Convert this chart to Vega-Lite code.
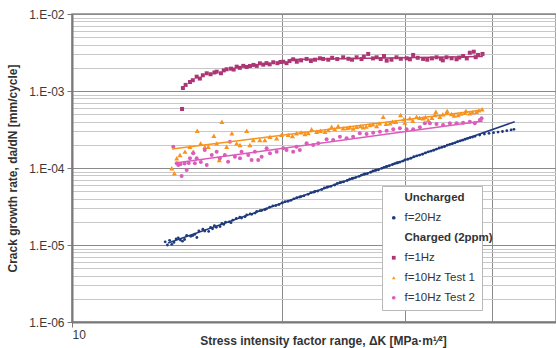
{
  "$schema": "https://vega.github.io/schema/vega-lite/v6.json",
  "width": 484,
  "height": 308,
  "autosize": {"type": "none"},
  "padding": {"left": 72, "top": 14, "right": 0, "bottom": 26},
  "background": "white",
  "config": {
    "font": "Liberation Sans",
    "view": {"stroke": "#8a8a8a", "strokeWidth": 1.5}
  },
  "datasets": {
    "pts": [
      {"series": "f=20Hz", "dK": 13.6, "rate": 1.10e-5},
      {"series": "f=20Hz", "dK": 13.7, "rate": 1.00e-5},
      {"series": "f=20Hz", "dK": 13.8, "rate": 1.15e-5},
      {"series": "f=20Hz", "dK": 13.9, "rate": 1.02e-5},
      {"series": "f=20Hz", "dK": 14.0, "rate": 1.08e-5},
      {"series": "f=20Hz", "dK": 14.1, "rate": 1.20e-5},
      {"series": "f=20Hz", "dK": 14.2, "rate": 1.24e-5},
      {"series": "f=20Hz", "dK": 14.3, "rate": 1.16e-5},
      {"series": "f=20Hz", "dK": 14.4, "rate": 1.12e-5},
      {"series": "f=20Hz", "dK": 14.5, "rate": 1.18e-5},
      {"series": "f=20Hz", "dK": 14.6, "rate": 1.33e-5},
      {"series": "f=20Hz", "dK": 14.8, "rate": 1.30e-5},
      {"series": "f=20Hz", "dK": 14.9, "rate": 1.33e-5},
      {"series": "f=20Hz", "dK": 15.0, "rate": 1.38e-5},
      {"series": "f=20Hz", "dK": 15.1, "rate": 1.25e-5},
      {"series": "f=20Hz", "dK": 15.2, "rate": 1.52e-5},
      {"series": "f=20Hz", "dK": 15.4, "rate": 1.60e-5},
      {"series": "f=20Hz", "dK": 15.5, "rate": 1.52e-5},
      {"series": "f=20Hz", "dK": 15.7, "rate": 1.50e-5},
      {"series": "f=20Hz", "dK": 15.8, "rate": 1.69e-5},
      {"series": "f=20Hz", "dK": 15.9, "rate": 1.62e-5},
      {"series": "f=20Hz", "dK": 16.0, "rate": 1.78e-5},
      {"series": "f=20Hz", "dK": 16.1, "rate": 1.70e-5},
      {"series": "f=20Hz", "dK": 16.3, "rate": 1.74e-5},
      {"series": "f=20Hz", "dK": 16.4, "rate": 1.90e-5},
      {"series": "f=20Hz", "dK": 16.5, "rate": 1.85e-5},
      {"series": "f=20Hz", "dK": 16.6, "rate": 1.98e-5},
      {"series": "f=20Hz", "dK": 16.8, "rate": 2.00e-5},
      {"series": "f=20Hz", "dK": 16.9, "rate": 1.95e-5},
      {"series": "f=20Hz", "dK": 17.0, "rate": 2.10e-5},
      {"series": "f=20Hz", "dK": 17.2, "rate": 2.22e-5},
      {"series": "f=20Hz", "dK": 17.4, "rate": 2.30e-5},
      {"series": "f=20Hz", "dK": 17.5, "rate": 2.24e-5},
      {"series": "f=20Hz", "dK": 17.7, "rate": 2.33e-5},
      {"series": "f=20Hz", "dK": 17.8, "rate": 2.45e-5},
      {"series": "f=20Hz", "dK": 18.0, "rate": 2.53e-5},
      {"series": "f=20Hz", "dK": 18.1, "rate": 2.50e-5},
      {"series": "f=20Hz", "dK": 18.3, "rate": 2.60e-5},
      {"series": "f=20Hz", "dK": 18.4, "rate": 2.72e-5},
      {"series": "f=20Hz", "dK": 18.6, "rate": 2.80e-5},
      {"series": "f=20Hz", "dK": 18.7, "rate": 2.80e-5},
      {"series": "f=20Hz", "dK": 18.9, "rate": 2.88e-5},
      {"series": "f=20Hz", "dK": 19.0, "rate": 2.95e-5},
      {"series": "f=20Hz", "dK": 19.2, "rate": 3.10e-5},
      {"series": "f=20Hz", "dK": 19.4, "rate": 3.22e-5},
      {"series": "f=20Hz", "dK": 19.6, "rate": 3.25e-5},
      {"series": "f=20Hz", "dK": 19.8, "rate": 3.35e-5},
      {"series": "f=20Hz", "dK": 20.0, "rate": 3.52e-5},
      {"series": "f=20Hz", "dK": 20.2, "rate": 3.66e-5},
      {"series": "f=20Hz", "dK": 20.4, "rate": 3.70e-5},
      {"series": "f=20Hz", "dK": 20.6, "rate": 3.80e-5},
      {"series": "f=20Hz", "dK": 20.8, "rate": 3.98e-5},
      {"series": "f=20Hz", "dK": 21.0, "rate": 4.12e-5},
      {"series": "f=20Hz", "dK": 21.2, "rate": 4.20e-5},
      {"series": "f=20Hz", "dK": 21.3, "rate": 4.25e-5},
      {"series": "f=20Hz", "dK": 21.5, "rate": 4.35e-5},
      {"series": "f=20Hz", "dK": 21.8, "rate": 4.55e-5},
      {"series": "f=20Hz", "dK": 22.0, "rate": 4.78e-5},
      {"series": "f=20Hz", "dK": 22.2, "rate": 4.85e-5},
      {"series": "f=20Hz", "dK": 22.3, "rate": 4.97e-5},
      {"series": "f=20Hz", "dK": 22.5, "rate": 5.02e-5},
      {"series": "f=20Hz", "dK": 22.8, "rate": 5.25e-5},
      {"series": "f=20Hz", "dK": 23.0, "rate": 5.50e-5},
      {"series": "f=20Hz", "dK": 23.2, "rate": 5.62e-5},
      {"series": "f=20Hz", "dK": 23.3, "rate": 5.70e-5},
      {"series": "f=20Hz", "dK": 23.5, "rate": 5.78e-5},
      {"series": "f=20Hz", "dK": 23.8, "rate": 6.02e-5},
      {"series": "f=20Hz", "dK": 24.0, "rate": 6.30e-5},
      {"series": "f=20Hz", "dK": 24.2, "rate": 6.45e-5},
      {"series": "f=20Hz", "dK": 24.3, "rate": 6.52e-5},
      {"series": "f=20Hz", "dK": 24.5, "rate": 6.60e-5},
      {"series": "f=20Hz", "dK": 24.8, "rate": 6.88e-5},
      {"series": "f=20Hz", "dK": 25.0, "rate": 7.15e-5},
      {"series": "f=20Hz", "dK": 25.2, "rate": 7.30e-5},
      {"series": "f=20Hz", "dK": 25.3, "rate": 7.38e-5},
      {"series": "f=20Hz", "dK": 25.5, "rate": 7.50e-5},
      {"series": "f=20Hz", "dK": 25.8, "rate": 7.80e-5},
      {"series": "f=20Hz", "dK": 26.0, "rate": 8.10e-5},
      {"series": "f=20Hz", "dK": 26.2, "rate": 8.30e-5},
      {"series": "f=20Hz", "dK": 26.3, "rate": 8.35e-5},
      {"series": "f=20Hz", "dK": 26.5, "rate": 8.45e-5},
      {"series": "f=20Hz", "dK": 26.8, "rate": 8.80e-5},
      {"series": "f=20Hz", "dK": 27.0, "rate": 9.15e-5},
      {"series": "f=20Hz", "dK": 27.2, "rate": 9.30e-5},
      {"series": "f=20Hz", "dK": 27.3, "rate": 9.40e-5},
      {"series": "f=20Hz", "dK": 27.5, "rate": 9.50e-5},
      {"series": "f=20Hz", "dK": 27.8, "rate": 9.90e-5},
      {"series": "f=20Hz", "dK": 28.0, "rate": 1.02e-4},
      {"series": "f=20Hz", "dK": 28.2, "rate": 1.04e-4},
      {"series": "f=20Hz", "dK": 28.3, "rate": 1.05e-4},
      {"series": "f=20Hz", "dK": 28.5, "rate": 1.07e-4},
      {"series": "f=20Hz", "dK": 28.8, "rate": 1.11e-4},
      {"series": "f=20Hz", "dK": 29.0, "rate": 1.14e-4},
      {"series": "f=20Hz", "dK": 29.2, "rate": 1.16e-4},
      {"series": "f=20Hz", "dK": 29.3, "rate": 1.17e-4},
      {"series": "f=20Hz", "dK": 29.5, "rate": 1.19e-4},
      {"series": "f=20Hz", "dK": 29.8, "rate": 1.23e-4},
      {"series": "f=20Hz", "dK": 30.0, "rate": 1.27e-4},
      {"series": "f=20Hz", "dK": 30.3, "rate": 1.30e-4},
      {"series": "f=20Hz", "dK": 30.6, "rate": 1.34e-4},
      {"series": "f=20Hz", "dK": 30.9, "rate": 1.40e-4},
      {"series": "f=20Hz", "dK": 31.2, "rate": 1.44e-4},
      {"series": "f=20Hz", "dK": 31.5, "rate": 1.47e-4},
      {"series": "f=20Hz", "dK": 31.8, "rate": 1.51e-4},
      {"series": "f=20Hz", "dK": 32.1, "rate": 1.57e-4},
      {"series": "f=20Hz", "dK": 32.4, "rate": 1.62e-4},
      {"series": "f=20Hz", "dK": 32.7, "rate": 1.66e-4},
      {"series": "f=20Hz", "dK": 33.0, "rate": 1.70e-4},
      {"series": "f=20Hz", "dK": 33.3, "rate": 1.76e-4},
      {"series": "f=20Hz", "dK": 33.6, "rate": 1.82e-4},
      {"series": "f=20Hz", "dK": 33.9, "rate": 1.86e-4},
      {"series": "f=20Hz", "dK": 34.2, "rate": 1.90e-4},
      {"series": "f=20Hz", "dK": 34.5, "rate": 1.98e-4},
      {"series": "f=20Hz", "dK": 34.8, "rate": 2.03e-4},
      {"series": "f=20Hz", "dK": 35.1, "rate": 2.07e-4},
      {"series": "f=20Hz", "dK": 35.4, "rate": 2.12e-4},
      {"series": "f=20Hz", "dK": 35.7, "rate": 2.20e-4},
      {"series": "f=20Hz", "dK": 36.0, "rate": 2.25e-4},
      {"series": "f=20Hz", "dK": 36.3, "rate": 2.30e-4},
      {"series": "f=20Hz", "dK": 36.6, "rate": 2.36e-4},
      {"series": "f=20Hz", "dK": 36.9, "rate": 2.42e-4},
      {"series": "f=20Hz", "dK": 37.2, "rate": 2.48e-4},
      {"series": "f=20Hz", "dK": 37.5, "rate": 2.52e-4},
      {"series": "f=20Hz", "dK": 37.8, "rate": 2.58e-4},
      {"series": "f=20Hz", "dK": 38.4, "rate": 2.68e-4},
      {"series": "f=20Hz", "dK": 39.0, "rate": 2.76e-4},
      {"series": "f=20Hz", "dK": 39.6, "rate": 2.82e-4},
      {"series": "f=20Hz", "dK": 40.2, "rate": 2.88e-4},
      {"series": "f=20Hz", "dK": 40.8, "rate": 2.93e-4},
      {"series": "f=20Hz", "dK": 41.4, "rate": 2.98e-4},
      {"series": "f=20Hz", "dK": 42.0, "rate": 3.05e-4},
      {"series": "f=20Hz", "dK": 42.6, "rate": 3.12e-4},
      {"series": "f=20Hz", "dK": 43.0, "rate": 3.18e-4},

      {"series": "f=1Hz", "dK": 14.38, "rate": 5.84e-4},
      {"series": "f=1Hz", "dK": 14.42, "rate": 1.094e-3},
      {"series": "f=1Hz", "dK": 14.55, "rate": 1.20e-3},
      {"series": "f=1Hz", "dK": 14.76, "rate": 1.309e-3},
      {"series": "f=1Hz", "dK": 14.9, "rate": 1.38e-3},
      {"series": "f=1Hz", "dK": 15.09, "rate": 1.535e-3},
      {"series": "f=1Hz", "dK": 15.25, "rate": 1.45e-3},
      {"series": "f=1Hz", "dK": 15.4, "rate": 1.60e-3},
      {"series": "f=1Hz", "dK": 15.6, "rate": 1.698e-3},
      {"series": "f=1Hz", "dK": 15.8, "rate": 1.65e-3},
      {"series": "f=1Hz", "dK": 16.0, "rate": 1.74e-3},
      {"series": "f=1Hz", "dK": 16.12, "rate": 1.782e-3},
      {"series": "f=1Hz", "dK": 16.35, "rate": 1.70e-3},
      {"series": "f=1Hz", "dK": 16.5, "rate": 1.85e-3},
      {"series": "f=1Hz", "dK": 16.66, "rate": 1.915e-3},
      {"series": "f=1Hz", "dK": 16.9, "rate": 1.95e-3},
      {"series": "f=1Hz", "dK": 17.05, "rate": 1.90e-3},
      {"series": "f=1Hz", "dK": 17.22, "rate": 2.07e-3},
      {"series": "f=1Hz", "dK": 17.4, "rate": 2.00e-3},
      {"series": "f=1Hz", "dK": 17.6, "rate": 2.12e-3},
      {"series": "f=1Hz", "dK": 17.8, "rate": 2.05e-3},
      {"series": "f=1Hz", "dK": 17.99, "rate": 2.11e-3},
      {"series": "f=1Hz", "dK": 18.2, "rate": 2.18e-3},
      {"series": "f=1Hz", "dK": 18.4, "rate": 2.12e-3},
      {"series": "f=1Hz", "dK": 18.59, "rate": 2.29e-3},
      {"series": "f=1Hz", "dK": 18.8, "rate": 2.20e-3},
      {"series": "f=1Hz", "dK": 19.0, "rate": 2.30e-3},
      {"series": "f=1Hz", "dK": 19.2, "rate": 2.22e-3},
      {"series": "f=1Hz", "dK": 19.43, "rate": 2.36e-3},
      {"series": "f=1Hz", "dK": 19.7, "rate": 2.30e-3},
      {"series": "f=1Hz", "dK": 19.9, "rate": 2.38e-3},
      {"series": "f=1Hz", "dK": 20.08, "rate": 2.40e-3},
      {"series": "f=1Hz", "dK": 20.3, "rate": 2.30e-3},
      {"series": "f=1Hz", "dK": 20.5, "rate": 2.45e-3},
      {"series": "f=1Hz", "dK": 20.75, "rate": 2.58e-3},
      {"series": "f=1Hz", "dK": 21.0, "rate": 2.40e-3},
      {"series": "f=1Hz", "dK": 21.3, "rate": 2.50e-3},
      {"series": "f=1Hz", "dK": 21.69, "rate": 2.61e-3},
      {"series": "f=1Hz", "dK": 22.0, "rate": 2.45e-3},
      {"series": "f=1Hz", "dK": 22.3, "rate": 2.55e-3},
      {"series": "f=1Hz", "dK": 22.66, "rate": 2.66e-3},
      {"series": "f=1Hz", "dK": 22.91, "rate": 2.61e-3},
      {"series": "f=1Hz", "dK": 23.3, "rate": 2.55e-3},
      {"series": "f=1Hz", "dK": 23.6, "rate": 2.70e-3},
      {"series": "f=1Hz", "dK": 24.0, "rate": 2.60e-3},
      {"series": "f=1Hz", "dK": 24.47, "rate": 2.74e-3},
      {"series": "f=1Hz", "dK": 24.9, "rate": 2.62e-3},
      {"series": "f=1Hz", "dK": 25.2, "rate": 2.55e-3},
      {"series": "f=1Hz", "dK": 25.58, "rate": 2.74e-3},
      {"series": "f=1Hz", "dK": 26.0, "rate": 2.60e-3},
      {"series": "f=1Hz", "dK": 26.2, "rate": 2.80e-3},
      {"series": "f=1Hz", "dK": 26.58, "rate": 3.03e-3},
      {"series": "f=1Hz", "dK": 27.0, "rate": 2.65e-3},
      {"series": "f=1Hz", "dK": 27.33, "rate": 2.74e-3},
      {"series": "f=1Hz", "dK": 27.7, "rate": 2.60e-3},
      {"series": "f=1Hz", "dK": 28.0, "rate": 2.85e-3},
      {"series": "f=1Hz", "dK": 28.25, "rate": 2.48e-3},
      {"series": "f=1Hz", "dK": 28.7, "rate": 2.55e-3},
      {"series": "f=1Hz", "dK": 29.18, "rate": 2.74e-3},
      {"series": "f=1Hz", "dK": 29.6, "rate": 2.62e-3},
      {"series": "f=1Hz", "dK": 30.17, "rate": 2.66e-3},
      {"series": "f=1Hz", "dK": 30.5, "rate": 2.58e-3},
      {"series": "f=1Hz", "dK": 30.83, "rate": 2.94e-3},
      {"series": "f=1Hz", "dK": 31.3, "rate": 2.70e-3},
      {"series": "f=1Hz", "dK": 31.86, "rate": 2.61e-3},
      {"series": "f=1Hz", "dK": 32.3, "rate": 2.55e-3},
      {"series": "f=1Hz", "dK": 32.8, "rate": 2.65e-3},
      {"series": "f=1Hz", "dK": 33.3, "rate": 2.74e-3},
      {"series": "f=1Hz", "dK": 33.8, "rate": 2.62e-3},
      {"series": "f=1Hz", "dK": 34.0, "rate": 2.50e-3},
      {"series": "f=1Hz", "dK": 34.42, "rate": 2.74e-3},
      {"series": "f=1Hz", "dK": 35.0, "rate": 2.66e-3},
      {"series": "f=1Hz", "dK": 35.58, "rate": 2.58e-3},
      {"series": "f=1Hz", "dK": 35.9, "rate": 2.72e-3},
      {"series": "f=1Hz", "dK": 36.36, "rate": 2.85e-3},
      {"series": "f=1Hz", "dK": 36.8, "rate": 2.65e-3},
      {"series": "f=1Hz", "dK": 37.17, "rate": 3.14e-3},
      {"series": "f=1Hz", "dK": 37.66, "rate": 3.24e-3},
      {"series": "f=1Hz", "dK": 37.9, "rate": 2.75e-3},
      {"series": "f=1Hz", "dK": 38.2, "rate": 2.94e-3},
      {"series": "f=1Hz", "dK": 38.76, "rate": 3.03e-3},

      {"series": "f=10Hz Test 1", "dK": 13.90, "rate": 9.91e-5},
      {"series": "f=10Hz Test 1", "dK": 14.02, "rate": 8.53e-5},
      {"series": "f=10Hz Test 1", "dK": 14.13, "rate": 1.337e-4},
      {"series": "f=10Hz Test 1", "dK": 14.28, "rate": 1.476e-4},
      {"series": "f=10Hz Test 1", "dK": 14.52, "rate": 1.63e-4},
      {"series": "f=10Hz Test 1", "dK": 14.76, "rate": 1.89e-4},
      {"series": "f=10Hz Test 1", "dK": 14.92, "rate": 1.63e-4},
      {"series": "f=10Hz Test 1", "dK": 15.12, "rate": 3.05e-4},
      {"series": "f=10Hz Test 1", "dK": 15.29, "rate": 2.09e-4},
      {"series": "f=10Hz Test 1", "dK": 15.50, "rate": 1.89e-4},
      {"series": "f=10Hz Test 1", "dK": 15.68, "rate": 1.89e-4},
      {"series": "f=10Hz Test 1", "dK": 15.97, "rate": 2.62e-4},
      {"series": "f=10Hz Test 1", "dK": 16.12, "rate": 2.09e-4},
      {"series": "f=10Hz Test 1", "dK": 16.26, "rate": 1.27e-4},
      {"series": "f=10Hz Test 1", "dK": 16.40, "rate": 3.99e-4},
      {"series": "f=10Hz Test 1", "dK": 16.66, "rate": 1.89e-4},
      {"series": "f=10Hz Test 1", "dK": 16.95, "rate": 2.83e-4},
      {"series": "f=10Hz Test 1", "dK": 17.22, "rate": 2.09e-4},
      {"series": "f=10Hz Test 1", "dK": 17.41, "rate": 1.99e-4},
      {"series": "f=10Hz Test 1", "dK": 17.80, "rate": 3.05e-4},
      {"series": "f=10Hz Test 1", "dK": 17.99, "rate": 1.99e-4},
      {"series": "f=10Hz Test 1", "dK": 18.19, "rate": 2.31e-4},
      {"series": "f=10Hz Test 1", "dK": 18.59, "rate": 2.31e-4},
      {"series": "f=10Hz Test 1", "dK": 18.90, "rate": 2.31e-4},
      {"series": "f=10Hz Test 1", "dK": 19.22, "rate": 2.55e-4},
      {"series": "f=10Hz Test 1", "dK": 19.65, "rate": 2.43e-4},
      {"series": "f=10Hz Test 1", "dK": 19.97, "rate": 2.69e-4},
      {"series": "f=10Hz Test 1", "dK": 20.41, "rate": 2.69e-4},
      {"series": "f=10Hz Test 1", "dK": 20.7, "rate": 2.60e-4},
      {"series": "f=10Hz Test 1", "dK": 20.98, "rate": 2.83e-4},
      {"series": "f=10Hz Test 1", "dK": 21.3, "rate": 2.90e-4},
      {"series": "f=10Hz Test 1", "dK": 21.57, "rate": 2.77e-4},
      {"series": "f=10Hz Test 1", "dK": 21.8, "rate": 2.85e-4},
      {"series": "f=10Hz Test 1", "dK": 22.05, "rate": 3.18e-4},
      {"series": "f=10Hz Test 1", "dK": 22.42, "rate": 2.96e-4},
      {"series": "f=10Hz Test 1", "dK": 22.7, "rate": 3.05e-4},
      {"series": "f=10Hz Test 1", "dK": 23.04, "rate": 2.96e-4},
      {"series": "f=10Hz Test 1", "dK": 23.3, "rate": 3.10e-4},
      {"series": "f=10Hz Test 1", "dK": 23.56, "rate": 3.44e-4},
      {"series": "f=10Hz Test 1", "dK": 23.8, "rate": 3.20e-4},
      {"series": "f=10Hz Test 1", "dK": 24.07, "rate": 3.51e-4},
      {"series": "f=10Hz Test 1", "dK": 24.47, "rate": 3.28e-4},
      {"series": "f=10Hz Test 1", "dK": 24.8, "rate": 3.30e-4},
      {"series": "f=10Hz Test 1", "dK": 25.02, "rate": 3.38e-4},
      {"series": "f=10Hz Test 1", "dK": 25.3, "rate": 3.25e-4},
      {"series": "f=10Hz Test 1", "dK": 25.58, "rate": 3.44e-4},
      {"series": "f=10Hz Test 1", "dK": 25.9, "rate": 3.50e-4},
      {"series": "f=10Hz Test 1", "dK": 26.14, "rate": 3.38e-4},
      {"series": "f=10Hz Test 1", "dK": 26.4, "rate": 3.45e-4},
      {"series": "f=10Hz Test 1", "dK": 26.73, "rate": 3.62e-4},
      {"series": "f=10Hz Test 1", "dK": 27.0, "rate": 3.70e-4},
      {"series": "f=10Hz Test 1", "dK": 27.33, "rate": 3.51e-4},
      {"series": "f=10Hz Test 1", "dK": 27.6, "rate": 3.80e-4},
      {"series": "f=10Hz Test 1", "dK": 27.93, "rate": 4.64e-4},
      {"series": "f=10Hz Test 1", "dK": 28.2, "rate": 3.75e-4},
      {"series": "f=10Hz Test 1", "dK": 28.55, "rate": 3.81e-4},
      {"series": "f=10Hz Test 1", "dK": 28.8, "rate": 4.00e-4},
      {"series": "f=10Hz Test 1", "dK": 29.12, "rate": 3.99e-4},
      {"series": "f=10Hz Test 1", "dK": 29.57, "rate": 4.88e-4},
      {"series": "f=10Hz Test 1", "dK": 29.9, "rate": 4.30e-4},
      {"series": "f=10Hz Test 1", "dK": 30.00, "rate": 3.88e-4},
      {"series": "f=10Hz Test 1", "dK": 30.50, "rate": 4.42e-4},
      {"series": "f=10Hz Test 1", "dK": 30.8, "rate": 4.10e-4},
      {"series": "f=10Hz Test 1", "dK": 31.18, "rate": 4.64e-4},
      {"series": "f=10Hz Test 1", "dK": 31.5, "rate": 4.50e-4},
      {"series": "f=10Hz Test 1", "dK": 31.86, "rate": 4.42e-4},
      {"series": "f=10Hz Test 1", "dK": 32.1, "rate": 4.60e-4},
      {"series": "f=10Hz Test 1", "dK": 32.40, "rate": 4.20e-4},
      {"series": "f=10Hz Test 1", "dK": 32.8, "rate": 4.50e-4},
      {"series": "f=10Hz Test 1", "dK": 33.12, "rate": 4.88e-4},
      {"series": "f=10Hz Test 1", "dK": 33.23, "rate": 5.38e-4},
      {"series": "f=10Hz Test 1", "dK": 33.67, "rate": 4.64e-4},
      {"series": "f=10Hz Test 1", "dK": 34.0, "rate": 5.00e-4},
      {"series": "f=10Hz Test 1", "dK": 34.42, "rate": 5.23e-4},
      {"series": "f=10Hz Test 1", "dK": 34.5, "rate": 5.50e-4},
      {"series": "f=10Hz Test 1", "dK": 34.99, "rate": 5.03e-4},
      {"series": "f=10Hz Test 1", "dK": 35.3, "rate": 4.80e-4},
      {"series": "f=10Hz Test 1", "dK": 35.76, "rate": 4.88e-4},
      {"series": "f=10Hz Test 1", "dK": 36.1, "rate": 5.10e-4},
      {"series": "f=10Hz Test 1", "dK": 36.56, "rate": 5.23e-4},
      {"series": "f=10Hz Test 1", "dK": 36.7, "rate": 5.50e-4},
      {"series": "f=10Hz Test 1", "dK": 37.17, "rate": 5.13e-4},
      {"series": "f=10Hz Test 1", "dK": 37.5, "rate": 5.30e-4},
      {"series": "f=10Hz Test 1", "dK": 38.00, "rate": 5.38e-4},
      {"series": "f=10Hz Test 1", "dK": 38.3, "rate": 5.60e-4},
      {"series": "f=10Hz Test 1", "dK": 38.71, "rate": 5.79e-4},

      {"series": "f=10Hz Test 2", "dK": 13.97, "rate": 1.89e-4},
      {"series": "f=10Hz Test 2", "dK": 14.13, "rate": 1.15e-4},
      {"series": "f=10Hz Test 2", "dK": 14.20, "rate": 1.094e-4},
      {"series": "f=10Hz Test 2", "dK": 14.3, "rate": 1.12e-4},
      {"series": "f=10Hz Test 2", "dK": 14.36, "rate": 7.87e-5},
      {"series": "f=10Hz Test 2", "dK": 14.5, "rate": 1.14e-4},
      {"series": "f=10Hz Test 2", "dK": 14.60, "rate": 9.42e-5},
      {"series": "f=10Hz Test 2", "dK": 14.7, "rate": 1.16e-4},
      {"series": "f=10Hz Test 2", "dK": 14.76, "rate": 1.337e-4},
      {"series": "f=10Hz Test 2", "dK": 14.92, "rate": 1.552e-4},
      {"series": "f=10Hz Test 2", "dK": 15.0, "rate": 1.15e-4},
      {"series": "f=10Hz Test 2", "dK": 15.09, "rate": 1.337e-4},
      {"series": "f=10Hz Test 2", "dK": 15.3, "rate": 1.20e-4},
      {"series": "f=10Hz Test 2", "dK": 15.50, "rate": 1.714e-4},
      {"series": "f=10Hz Test 2", "dK": 15.60, "rate": 1.094e-4},
      {"series": "f=10Hz Test 2", "dK": 15.86, "rate": 1.476e-4},
      {"series": "f=10Hz Test 2", "dK": 16.12, "rate": 1.63e-4},
      {"series": "f=10Hz Test 2", "dK": 16.29, "rate": 1.337e-4},
      {"series": "f=10Hz Test 2", "dK": 16.56, "rate": 1.476e-4},
      {"series": "f=10Hz Test 2", "dK": 16.74, "rate": 1.208e-4},
      {"series": "f=10Hz Test 2", "dK": 16.84, "rate": 2.20e-4},
      {"series": "f=10Hz Test 2", "dK": 17.12, "rate": 1.40e-4},
      {"series": "f=10Hz Test 2", "dK": 17.41, "rate": 1.337e-4},
      {"series": "f=10Hz Test 2", "dK": 17.50, "rate": 1.63e-4},
      {"series": "f=10Hz Test 2", "dK": 17.89, "rate": 1.476e-4},
      {"series": "f=10Hz Test 2", "dK": 18.09, "rate": 1.27e-4},
      {"series": "f=10Hz Test 2", "dK": 18.29, "rate": 1.63e-4},
      {"series": "f=10Hz Test 2", "dK": 18.49, "rate": 1.27e-4},
      {"series": "f=10Hz Test 2", "dK": 18.70, "rate": 1.40e-4},
      {"series": "f=10Hz Test 2", "dK": 19.01, "rate": 1.80e-4},
      {"series": "f=10Hz Test 2", "dK": 19.22, "rate": 1.552e-4},
      {"series": "f=10Hz Test 2", "dK": 19.65, "rate": 1.63e-4},
      {"series": "f=10Hz Test 2", "dK": 20.08, "rate": 1.80e-4},
      {"series": "f=10Hz Test 2", "dK": 20.30, "rate": 1.714e-4},
      {"series": "f=10Hz Test 2", "dK": 20.75, "rate": 1.63e-4},
      {"series": "f=10Hz Test 2", "dK": 20.98, "rate": 1.89e-4},
      {"series": "f=10Hz Test 2", "dK": 21.21, "rate": 1.714e-4},
      {"series": "f=10Hz Test 2", "dK": 21.69, "rate": 2.09e-4},
      {"series": "f=10Hz Test 2", "dK": 22.17, "rate": 1.99e-4},
      {"series": "f=10Hz Test 2", "dK": 22.54, "rate": 2.09e-4},
      {"series": "f=10Hz Test 2", "dK": 23.17, "rate": 2.36e-4},
      {"series": "f=10Hz Test 2", "dK": 23.68, "rate": 2.31e-4},
      {"series": "f=10Hz Test 2", "dK": 24.21, "rate": 2.55e-4},
      {"series": "f=10Hz Test 2", "dK": 24.75, "rate": 2.43e-4},
      {"series": "f=10Hz Test 2", "dK": 25.29, "rate": 2.55e-4},
      {"series": "f=10Hz Test 2", "dK": 25.85, "rate": 2.83e-4},
      {"series": "f=10Hz Test 2", "dK": 26.44, "rate": 2.77e-4},
      {"series": "f=10Hz Test 2", "dK": 27.02, "rate": 2.87e-4},
      {"series": "f=10Hz Test 2", "dK": 27.63, "rate": 2.96e-4},
      {"series": "f=10Hz Test 2", "dK": 28.25, "rate": 3.05e-4},
      {"series": "f=10Hz Test 2", "dK": 28.87, "rate": 3.18e-4},
      {"series": "f=10Hz Test 2", "dK": 29.51, "rate": 3.28e-4},
      {"series": "f=10Hz Test 2", "dK": 30.17, "rate": 3.18e-4},
      {"series": "f=10Hz Test 2", "dK": 30.83, "rate": 3.18e-4},
      {"series": "f=10Hz Test 2", "dK": 31.52, "rate": 3.38e-4},
      {"series": "f=10Hz Test 2", "dK": 32.04, "rate": 3.81e-4},
      {"series": "f=10Hz Test 2", "dK": 32.58, "rate": 3.81e-4},
      {"series": "f=10Hz Test 2", "dK": 33.30, "rate": 3.73e-4},
      {"series": "f=10Hz Test 2", "dK": 34.03, "rate": 3.62e-4},
      {"series": "f=10Hz Test 2", "dK": 34.80, "rate": 3.81e-4},
      {"series": "f=10Hz Test 2", "dK": 35.58, "rate": 3.81e-4},
      {"series": "f=10Hz Test 2", "dK": 36.36, "rate": 3.88e-4},
      {"series": "f=10Hz Test 2", "dK": 37.17, "rate": 3.99e-4},
      {"series": "f=10Hz Test 2", "dK": 37.79, "rate": 3.81e-4},
      {"series": "f=10Hz Test 2", "dK": 38.42, "rate": 4.20e-4},
      {"series": "f=10Hz Test 2", "dK": 38.64, "rate": 4.42e-4}
    ],
    "trend": [
      {"series": "f=20Hz", "dK": 13.73, "rate": 1.062e-5},
      {"series": "f=20Hz", "dK": 43.1, "rate": 3.99e-4},
      {"series": "f=1Hz", "dK": 20.53, "rate": 2.56e-3},
      {"series": "f=1Hz", "dK": 38.8, "rate": 2.81e-3},
      {"series": "f=10Hz Test 1", "dK": 13.91, "rate": 1.766e-4},
      {"series": "f=10Hz Test 1", "dK": 38.8, "rate": 5.66e-4},
      {"series": "f=10Hz Test 2", "dK": 14.05, "rate": 1.161e-4},
      {"series": "f=10Hz Test 2", "dK": 38.8, "rate": 4.08e-4}
    ]
  },
  "data": {"name": "pts"},
  "encoding": {
    "x": {
      "field": "dK", "type": "quantitative",
      "scale": {"type": "log", "domain": [10, 49.4], "nice": false, "zero": false},
      "axis": {
        "values": [10, 20, 30, 40],
        "labelExpr": "datum.value == 10 ? '10' : ''",
        "grid": true, "gridColor": "#8a8a8a", "gridWidth": 1,
        "domainColor": "#7a7a7a", "domainWidth": 2,
        "tickColor": "#7a7a7a", "tickSize": 5,
        "tickOpacity": {"condition": {"test": "datum.value == 10", "value": 1}, "value": 0},
        "labelFontSize": 12, "labelColor": "#3a3a3a", "labelPadding": 2,
        "title": "Stress intensity  factor range, ΔK [MPa·m¹⁄²]",
        "titleFontSize": 12, "titleFontWeight": "bold", "titleColor": "#333333",
        "titleX": 251, "titleY": 18, "titleBaseline": "middle", "titleAlign": "center"
      }
    },
    "y": {
      "field": "rate", "type": "quantitative",
      "scale": {"type": "log", "domain": [1e-6, 1e-2], "nice": false, "zero": false},
      "axis": {
        "values": [1e-6, 2e-6, 3e-6, 4e-6, 5e-6, 6e-6, 7e-6, 8e-6, 9e-6,
                   1e-5, 2e-5, 3e-5, 4e-5, 5e-5, 6e-5, 7e-5, 8e-5, 9e-5,
                   1e-4, 2e-4, 3e-4, 4e-4, 5e-4, 6e-4, 7e-4, 8e-4, 9e-4,
                   1e-3, 2e-3, 3e-3, 4e-3, 5e-3, 6e-3, 7e-3, 8e-3, 9e-3, 1e-2],
        "labelExpr": "abs(log(datum.value)/LN10 - round(log(datum.value)/LN10)) < 0.01 ? '1.E-0' + round(-log(datum.value)/LN10) : ''",
        "grid": true,
        "gridColor": {"condition": {"test": "abs(log(datum.value)/LN10 - round(log(datum.value)/LN10)) < 0.01", "value": "#8a8a8a"}, "value": "#c8c8c8"},
        "gridWidth": 1,
        "domainColor": "#7a7a7a", "domainWidth": 2,
        "tickColor": "#7a7a7a", "tickSize": 5,
        "tickOpacity": {"condition": {"test": "abs(log(datum.value)/LN10 - round(log(datum.value)/LN10)) < 0.01", "value": 1}, "value": 0},
        "labelFontSize": 12, "labelColor": "#3a3a3a", "labelPadding": 3,
        "labelOverlap": false,
        "title": "Crack growth rate, da/dN [mm/cycle]",
        "titleFontSize": 12, "titleFontWeight": "bold", "titleColor": "#333333",
        "titleX": -60, "titleY": 154, "titleBaseline": "middle", "titleAlign": "center", "titleAngle": -90
      }
    }
  },
  "layer": [
    {
      "transform": [{"filter": "datum.series === 'f=20Hz'"}],
      "mark": {"type": "point", "filled": true, "size": 8, "opacity": 1},
      "encoding": {
        "color": {
          "field": "series", "type": "nominal",
          "scale": {"domain": ["Uncharged", "f=20Hz", "Charged (2ppm)", "f=1Hz", "f=10Hz Test 1", "f=10Hz Test 2"],
                    "range": ["transparent", "#1f3b7d", "transparent", "#ad3574", "#f7931e", "#db5cbb"]},
          "legend": {
            "title": null, "orient": "none", "legendX": 310, "legendY": 172,
            "padding": 6, "fillColor": "white", "strokeColor": "#b8b8b8",
            "labelFontSize": 11.5, "labelColor": "#333333", "labelOffset": 5,
            "rowPadding": 7, "symbolSize": 14, "symbolStrokeWidth": 0,
            "labelExpr": "datum.label === 'Uncharged' ? '' : (datum.label === 'Charged (2ppm)' ? '\u00a0\u00a0\u00a0\u00a0\u00a0\u00a0\u00a0\u00a0\u00a0\u00a0\u00a0\u00a0\u00a0\u00a0\u00a0\u00a0\u00a0\u00a0\u00a0\u00a0\u00a0\u00a0\u00a0\u00a0\u00a0\u00a0\u00a0' : datum.label)"
          }
        },
        "shape": {
          "field": "series", "type": "nominal",
          "scale": {"domain": ["Uncharged", "f=20Hz", "Charged (2ppm)", "f=1Hz", "f=10Hz Test 1", "f=10Hz Test 2"],
                    "range": ["circle", "circle", "circle", "square", "triangle-up", "circle"]},
          "legend": {
            "title": null, "orient": "none", "legendX": 310, "legendY": 172,
            "padding": 6, "fillColor": "white", "strokeColor": "#b8b8b8",
            "labelFontSize": 11.5, "labelColor": "#333333", "labelOffset": 5,
            "rowPadding": 7, "symbolSize": 14, "symbolStrokeWidth": 0,
            "labelExpr": "datum.label === 'Uncharged' ? '' : (datum.label === 'Charged (2ppm)' ? '\u00a0\u00a0\u00a0\u00a0\u00a0\u00a0\u00a0\u00a0\u00a0\u00a0\u00a0\u00a0\u00a0\u00a0\u00a0\u00a0\u00a0\u00a0\u00a0\u00a0\u00a0\u00a0\u00a0\u00a0\u00a0\u00a0\u00a0' : datum.label)"
          }
        }
      }
    },
    {
      "transform": [{"filter": "datum.series === 'f=1Hz'"}],
      "mark": {"type": "point", "filled": true, "size": 16, "opacity": 1},
      "encoding": {
        "color": {"field": "series", "type": "nominal"},
        "shape": {"field": "series", "type": "nominal"}
      }
    },
    {
      "transform": [{"filter": "datum.series === 'f=10Hz Test 1'"}],
      "mark": {"type": "point", "filled": true, "size": 26, "opacity": 1},
      "encoding": {
        "color": {"field": "series", "type": "nominal"},
        "shape": {"field": "series", "type": "nominal"}
      }
    },
    {
      "transform": [{"filter": "datum.series === 'f=10Hz Test 2'"}],
      "mark": {"type": "point", "filled": true, "size": 16, "opacity": 1},
      "encoding": {
        "color": {"field": "series", "type": "nominal"},
        "shape": {"field": "series", "type": "nominal"}
      }
    },
    {
      "data": {"name": "trend"},
      "mark": {"type": "line", "strokeWidth": 1.5},
      "encoding": {
        "color": {"field": "series", "type": "nominal", "legend": null},
        "detail": {"field": "series", "type": "nominal"}
      }
    },
    {
      "transform": [{"filter": "false"}],
      "mark": {"type": "point", "filled": true, "opacity": 0},
      "encoding": {
        "strokeDash": {
          "field": "series", "type": "nominal",
          "scale": {"domain": ["Uncharged", "Charged (2ppm)"]},
          "legend": {
            "title": null, "orient": "none", "legendX": 310, "legendY": 172,
            "padding": 6, "labelFontSize": 11.5, "labelFontWeight": "bold",
            "labelColor": "#333333", "labelOffset": 5, "rowPadding": 27,
            "symbolSize": 14, "symbolType": "circle", "symbolOpacity": 0, "symbolStrokeWidth": 0
          }
        }
      }
    }
  ]
}
